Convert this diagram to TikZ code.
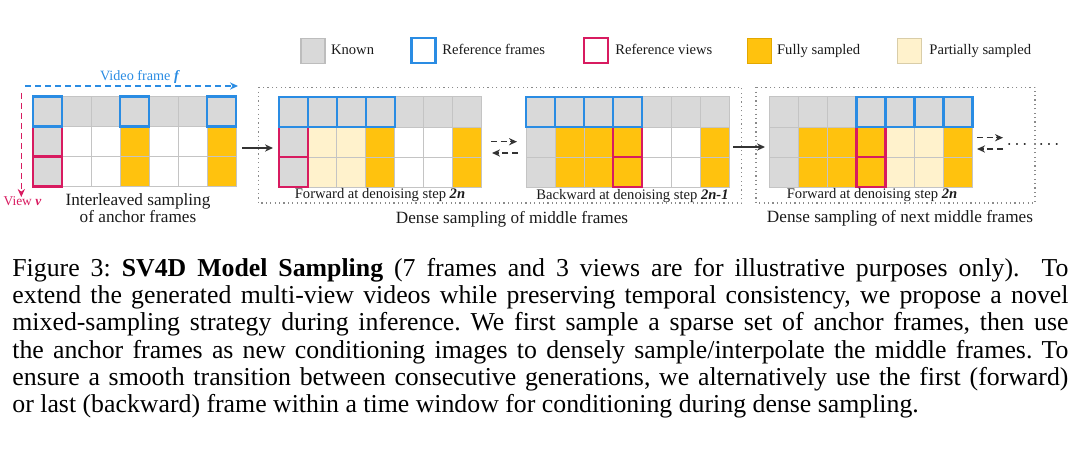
\documentclass[tikz,border=0pt]{standalone}
\usepackage{fontspec}
\setmainfont{Liberation Serif}
\usetikzlibrary{arrows.meta}
\definecolor{knownc}{HTML}{D9D9D9}
\definecolor{knownd}{HTML}{BDBDBD}
\definecolor{gridc}{HTML}{C4C4C4}
\definecolor{bluec}{HTML}{2A8CE3}
\definecolor{redc}{HTML}{D81B60}
\definecolor{fullc}{HTML}{FFC20E}
\definecolor{fulld}{HTML}{E3A800}
\definecolor{partc}{HTML}{FFF2CC}
\definecolor{partd}{HTML}{D9CDA8}
\definecolor{txtc}{HTML}{1A1A1A}
\definecolor{arrc}{HTML}{333333}
\definecolor{dotc}{HTML}{8A8A8A}
\newcommand\mkgrid[4]{%
  \foreach \c in {0,...,6}{\node[cell,fill=knownc] (#1-0-\c) at ({#2+29*\c+14.5},{#3+15}) {};}
  \foreach \c/\s in {#4}{%
    \node[cell,fill=\s] (#1-1-\c) at ({#2+29*\c+14.5},{#3+45}) {};
    \node[cell,fill=\s] (#1-2-\c) at ({#2+29*\c+14.5},{#3+75}) {};}%
}
\newcommand\outl[3]{\draw[#1] (#2.north west) rectangle (#2.south east);}
\begin{document}
\begin{tikzpicture}[x=0.5pt,y=-0.5pt,
  cell/.style={draw=gridc, line width=0.5pt, minimum width=14.5pt, minimum height=15pt, inner sep=0pt, outer sep=0pt},
  refF/.style={draw=bluec, line width=1.2pt},
  refV/.style={draw=redc, line width=1.2pt},
  arr/.style={-{Stealth[length=4pt,width=3.6pt]}, draw=arrc, line width=0.7pt},
  darr/.style={arr, dash pattern=on 3pt off 1.8pt},
  dotbox/.style={draw=dotc, line width=0.6pt, dash pattern=on 0.6pt off 1.6pt},
  legsq/.style={minimum width=12pt, minimum height=12.5pt, inner sep=0pt, line width=0.6pt},
  legtxt/.style={text=txtc, inner sep=0pt, anchor=base west, font=\fontsize{7.3}{8}\selectfont},
  sml/.style={text=txtc, inner sep=0pt, anchor=base, font=\fontsize{7.3}{8}\selectfont},
  big/.style={text=txtc, inner sep=0pt, anchor=base, font=\fontsize{8.6}{9}\selectfont},
  dotstxt/.style={text=txtc, inner sep=0pt, font=\fontsize{6.5}{7}\selectfont\boldmath},
  captxt/.style={text=black, inner sep=0pt, anchor=base west, font=\frenchspacing\fontsize{12.9}{13.6}\selectfont}
]
\useasboundingbox (0,0) rectangle (1080,449);

% legend
\node[legsq, fill=knownc, draw=knownd] (lk) at (312.9,50.8) {};
\node[legtxt] (lkt) at (330.7,54.5) {Known};
\node[legsq, fill=white, draw=bluec, line width=1.1pt] (lf) at (423.4,50.8) {};
\node[legtxt] (lft) at (442,54.5) {Reference frames};
\node[legsq, fill=white, draw=redc, line width=1.1pt] (lv) at (596,50.8) {};
\node[legtxt] (lvt) at (615,54.5) {Reference views};
\node[legsq, fill=fullc, draw=fulld] (lo) at (759.4,50.8) {};
\node[legtxt] (lot) at (776.7,54.5) {Fully sampled};
\node[legsq, fill=partc, draw=partd] (lp) at (909.7,50.8) {};
\node[legtxt] (lpt) at (929,54.5) {Partially sampled};

% dotted boxes
\draw[dotbox] (258.3,87.3) rectangle (741.7,203);
\draw[dotbox] (756,87.3) rectangle (1035,203);

% grids
\mkgrid{ga}{33}{96.5}{0/knownc,1/white,2/white,3/fullc,4/white,5/white,6/fullc}
\mkgrid{gb}{278.7}{97}{0/knownc,1/partc,2/partc,3/fullc,4/white,5/white,6/fullc}
\mkgrid{gc}{526}{97}{0/knownc,1/fullc,2/fullc,3/fullc,4/white,5/white,6/fullc}
\mkgrid{gd}{769.5}{97}{0/knownc,1/fullc,2/fullc,3/fullc,4/partc,5/partc,6/fullc}

% reference views (red)
\outl{refV}{ga-1-0}{} \outl{refV}{ga-2-0}{}
\outl{refV}{gb-1-0}{} \outl{refV}{gb-2-0}{}
\outl{refV}{gc-1-3}{} \outl{refV}{gc-2-3}{}
\outl{refV}{gd-1-3}{} \outl{refV}{gd-2-3}{}
% reference frames (blue)
\outl{refF}{ga-0-0}{} \outl{refF}{ga-0-3}{} \outl{refF}{ga-0-6}{}
\foreach \c in {0,...,3}{\outl{refF}{gb-0-\c}{}}
\foreach \c in {0,...,3}{\outl{refF}{gc-0-\c}{}}
\foreach \c in {3,...,6}{\outl{refF}{gd-0-\c}{}}

% axes of first grid
\coordinate (vfs) at (25,86);
\coordinate (vfe) at (238,86);
\draw[-{Stealth[length=4pt,width=3.6pt]}, draw=bluec, line width=0.6pt, dash pattern=on 3pt off 2pt] (vfs) -- (vfe);
\node[text=bluec, inner sep=0pt, anchor=base, font=\fontsize{7.1}{8}\selectfont] (vft) at (140,81) {Video frame \textbf{\textit{f}}};
\coordinate (vvs) at (21.3,93);
\coordinate (vve) at (21.3,197);
\draw[-{Stealth[length=4pt,width=3.6pt]}, draw=redc, line width=0.6pt, dash pattern=on 3pt off 2pt] (vvs) -- (vve);
\node[text=redc, inner sep=0pt, anchor=base, font=\fontsize{6.7}{7}\selectfont] (vvt) at (22.5,205.7) {View \textbf{\textit{v}}};

% labels
\node[big] (la1) at (138,205.9) {Interleaved sampling};
\node[big] (la2) at (138,222) {of anchor frames};
\node[sml] (lb) at (380,198.2) {Forward at denoising step \textbf{\textit{2n}}};
\node[sml] (lc) at (632.5,199.5) {Backward at denoising step \textbf{\textit{2n-1}}};
\node[sml] (ld) at (872,198.2) {Forward at denoising step \textbf{\textit{2n}}};
\node[big] (le) at (512,223) {Dense sampling of middle frames};
\node[big] (lf2) at (900,222.7) {Dense sampling of next middle frames};

% connectors
\coordinate (a1s) at (242,148); \coordinate (a1e) at (273,148);
\draw[arr] (a1s) -- (a1e);
\coordinate (a2s) at (733,147); \coordinate (a2e) at (765,147);
\draw[arr] (a2s) -- (a2e);
\coordinate (b1s) at (491,141.7); \coordinate (b1e) at (517,141.7);
\draw[darr] (b1s) -- (b1e);
\coordinate (b2s) at (518,153); \coordinate (b2e) at (492,153);
\draw[darr] (b2s) -- (b2e);
\coordinate (c1s) at (977,137.7); \coordinate (c1e) at (1003,137.7);
\draw[darr] (c1s) -- (c1e);
\coordinate (c2s) at (1003,149); \coordinate (c2e) at (977,149);
\draw[darr] (c2s) -- (c2e);
\node[dotstxt] (dots1) at (1017,145) {$\cdots$};
\node[dotstxt] (dots2) at (1049,145) {$\cdots$};

% caption
\node[captxt] (cap1) at (12,276.5) {\makebox[528pt][s]{Figure 3: \textbf{SV4D Model Sampling} (7 frames and 3 views are for illustrative purposes only).\ \ To}};
\node[captxt] (cap2) at (12,303.7) {\makebox[528pt][s]{extend the generated multi-view videos while preserving temporal consistency, we propose a novel}};
\node[captxt] (cap3) at (12,330.9) {\makebox[528pt][s]{mixed-sampling strategy during inference. We first sample a sparse set of anchor frames, then use}};
\node[captxt] (cap4) at (12,358.1) {\makebox[528pt][s]{the anchor frames as new conditioning images to densely sample/interpolate the middle frames. To}};
\node[captxt] (cap5) at (12,385.3) {\makebox[528pt][s]{ensure a smooth transition between consecutive generations, we alternatively use the first (forward)}};
\node[captxt] (cap6) at (12,412.5) {or last (backward) frame within a time window for conditioning during dense sampling.};
\end{tikzpicture}
\end{document}
